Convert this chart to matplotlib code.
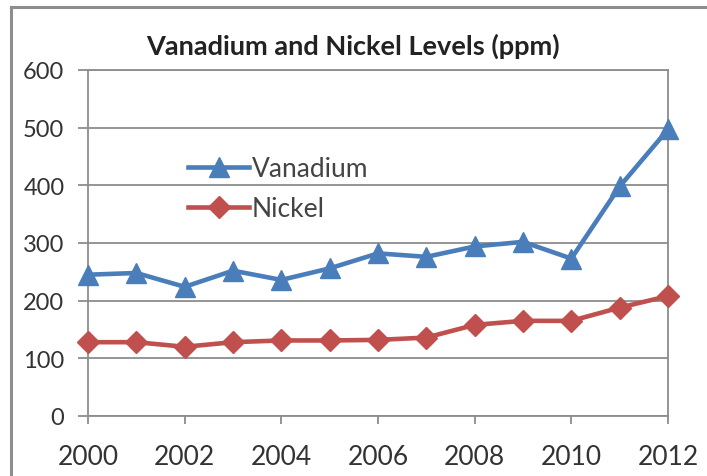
import matplotlib
matplotlib.use("Agg")
import matplotlib.pyplot as plt
from matplotlib.lines import Line2D

years = [2000, 2001, 2002, 2003, 2004, 2005, 2006, 2007, 2008, 2009, 2010, 2011, 2012]
vanadium = [245, 248, 224, 252, 236, 256, 282, 276, 294, 302, 273, 398, 497]
nickel = [128, 128, 120, 128, 131, 131, 132, 136, 158, 165, 165, 188, 208]
y_ticks = [0, 100, 200, 300, 400, 500, 600]
x_ticks = [2000, 2002, 2004, 2006, 2008, 2010, 2012]
title = "Vanadium and Nickel Levels (ppm)"

W, H = 707, 477
fig = plt.figure(figsize=(W / 100, H / 100), dpi=100)
fig.patch.set_facecolor("white")

# outer chart border (top and left edges visible)
border_col = "#8e8e8e"
fig.add_artist(Line2D([11 / W, 1.0], [1 - 8 / H, 1 - 8 / H], color=border_col, lw=2.2,
                      transform=fig.transFigure))
fig.add_artist(Line2D([11 / W, 11 / W], [0.0, 1 - 8 / H], color=border_col, lw=2.2,
                      transform=fig.transFigure))

ax = fig.add_axes([88 / W, 1 - 417 / H, (668 - 88) / W, (417 - 71) / H])

grid_col = "#8c8c8c"
ax.set_ylim(0, 600)
ax.set_xlim(2000, 2012)
ax.set_yticks(y_ticks)
ax.set_xticks(x_ticks)
ax.yaxis.grid(True, color=grid_col, lw=1.3)
ax.set_axisbelow(True)
for s in ax.spines.values():
    s.set_color(grid_col)
    s.set_linewidth(1.3)

font = "Lato"
ax.tick_params(axis="y", direction="out", length=7, width=1.3, color=grid_col, pad=10,
               labelsize=17, labelcolor="#333333")
ax.tick_params(axis="x", direction="out", length=6, width=1.3, color=grid_col, pad=14,
               labelsize=19, labelcolor="#333333")
for lab in ax.get_xticklabels() + ax.get_yticklabels():
    lab.set_family(font)

ax.plot(years, vanadium, color="#4a7ebb", lw=3.3, marker="^", markersize=15,
        label="Vanadium", clip_on=False, zorder=4)
ax.plot(years, nickel, color="#c0504d", lw=3.3, marker="D", markersize=11,
        label="Nickel", clip_on=False, zorder=3)

fig.text(353 / W, 1 - 46 / H, title, ha="center", va="center", fontsize=19.5,
         fontweight="bold", family=font, color="#222222")

leg = ax.legend(loc="upper left", bbox_to_anchor=(0.15, 0.79), frameon=False,
                prop={"family": font, "size": 19}, handlelength=2.3, handletextpad=0.1,
                labelspacing=0.57, borderpad=0)
for t in leg.get_texts():
    t.set_color("#444444")

fig.savefig("out.png", dpi=100)
